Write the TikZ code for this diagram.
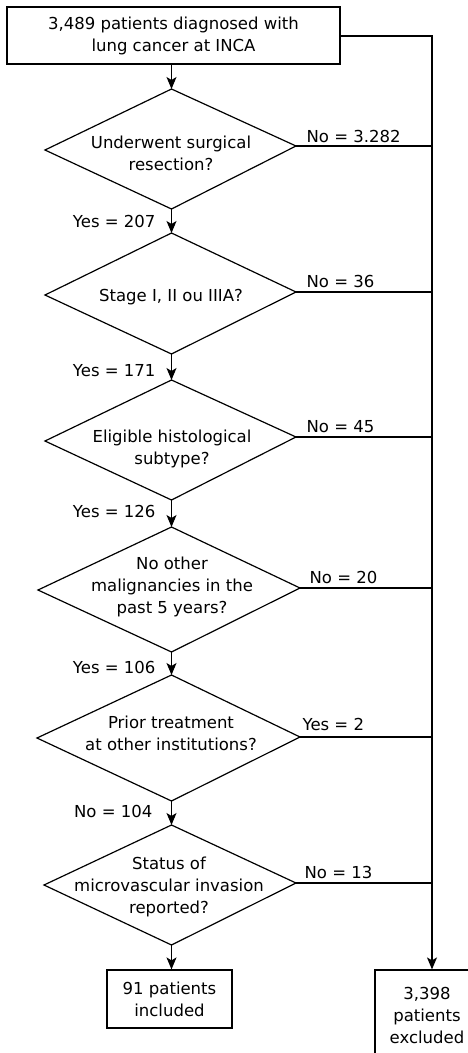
\documentclass[tikz,border=0pt]{standalone}
\usepackage{fontspec}
\setmainfont{DejaVu Sans}
\usetikzlibrary{arrows.meta}
\begin{document}
\begin{tikzpicture}[x=1pt,y=-1pt,line width=1.2pt,
  every node/.style={font=\fontsize{16.5}{22}\selectfont,inner sep=0pt,align=center},
  box/.style={draw,line width=1.2pt},
  arr/.style={-{Stealth[length=12pt,width=10pt,inset=3pt]}},
  rlbl/.style={anchor=west},
  llbl/.style={anchor=east}]
\useasboundingbox (0,0) rectangle (467,1053);
% boxes
\node[box,minimum width=333pt,minimum height=57pt] (top) at (173.5,35.5) {3,489 patients diagnosed with\\lung cancer at INCA};
\node[box,minimum width=125pt,minimum height=58pt] (incl) at (169.5,999) {91 patients\\included};
\node[box,minimum width=104pt,minimum height=90pt] (excl) at (427,1015) {3,398\\patients\\excluded};
% diamonds
\draw (171.5,89) coordinate (d1t) -- (296,146) coordinate (d1r) -- (171.5,209) coordinate (d1b) -- (45,150) coordinate (d1l) -- cycle;
\draw (171.5,233) coordinate (d2t) -- (296,292) coordinate (d2r) -- (171.5,354) coordinate (d2b) -- (45,295) coordinate (d2l) -- cycle;
\draw (171.5,380) coordinate (d3t) -- (296,437) coordinate (d3r) -- (171.5,500) coordinate (d3b) -- (45,441) coordinate (d3l) -- cycle;
\draw (171.5,527) coordinate (d4t) -- (300,588) coordinate (d4r) -- (171.5,652) coordinate (d4b) -- (38,590) coordinate (d4l) -- cycle;
\draw (171.5,675) coordinate (d5t) -- (300,737) coordinate (d5r) -- (171.5,801) coordinate (d5b) -- (37,738) coordinate (d5l) -- cycle;
\draw (171.5,825) coordinate (d6t) -- (296,883) coordinate (d6r) -- (171.5,945) coordinate (d6b) -- (44,885) coordinate (d6l) -- cycle;
% diamond texts
\node (n1) at (171,153) {Underwent surgical\\resection?};
\node (n2) at (171,297) {Stage I, II ou IIIA?};
\node (n3) at (172,449) {Eligible histological\\subtype?};
\node (n4) at (172,587) {No other\\malignancies in the\\past 5 years?};
\node (n5) at (171,733) {Prior treatment\\at other institutions?};
\node (n6) at (169,887) {Status of\\microvascular invasion\\reported?};
% rail
\coordinate (rail) at (432,36);
\draw[arr] (top.east |- rail) -- (rail) -- (rail |- excl.north);
% vertical arrows
\draw[arr] (top.south -| d1t) -- (d1t);
\draw[arr] (d1b) -- (d2t);
\draw[arr] (d2b) -- (d3t);
\draw[arr] (d3b) -- (d4t);
\draw[arr] (d4b) -- (d5t);
\draw[arr] (d5b) -- (d6t);
\draw[arr] (d6b) -- (d6b |- incl.north);
% horizontal exits
\draw (d1r) -- (d1r -| rail);
\draw (d2r) -- (d2r -| rail);
\draw (d3r) -- (d3r -| rail);
\draw (d4r) -- (d4r -| rail);
\draw (d5r) -- (d5r -| rail);
\draw (d6r) -- (d6r -| rail);
% right labels
\node[rlbl] (l1) at (306,136) {No = 3.282};
\node[rlbl] (l2) at (306,281) {No = 36};
\node[rlbl] (l3) at (306,427) {No = 45};
\node[rlbl] (l4) at (309,577) {No = 20};
\node[rlbl] (l5) at (302,724) {Yes = 2};
\node[rlbl] (l6) at (304,872) {No = 13};
% left labels
\node[llbl] (y1) at (156,221) {Yes = 207};
\node[llbl] (y2) at (156,371) {Yes = 171};
\node[llbl] (y3) at (156,511) {Yes = 126};
\node[llbl] (y4) at (156,667) {Yes = 106};
\node[llbl] (y5) at (153,811) {No = 104};
\end{tikzpicture}
\end{document}
